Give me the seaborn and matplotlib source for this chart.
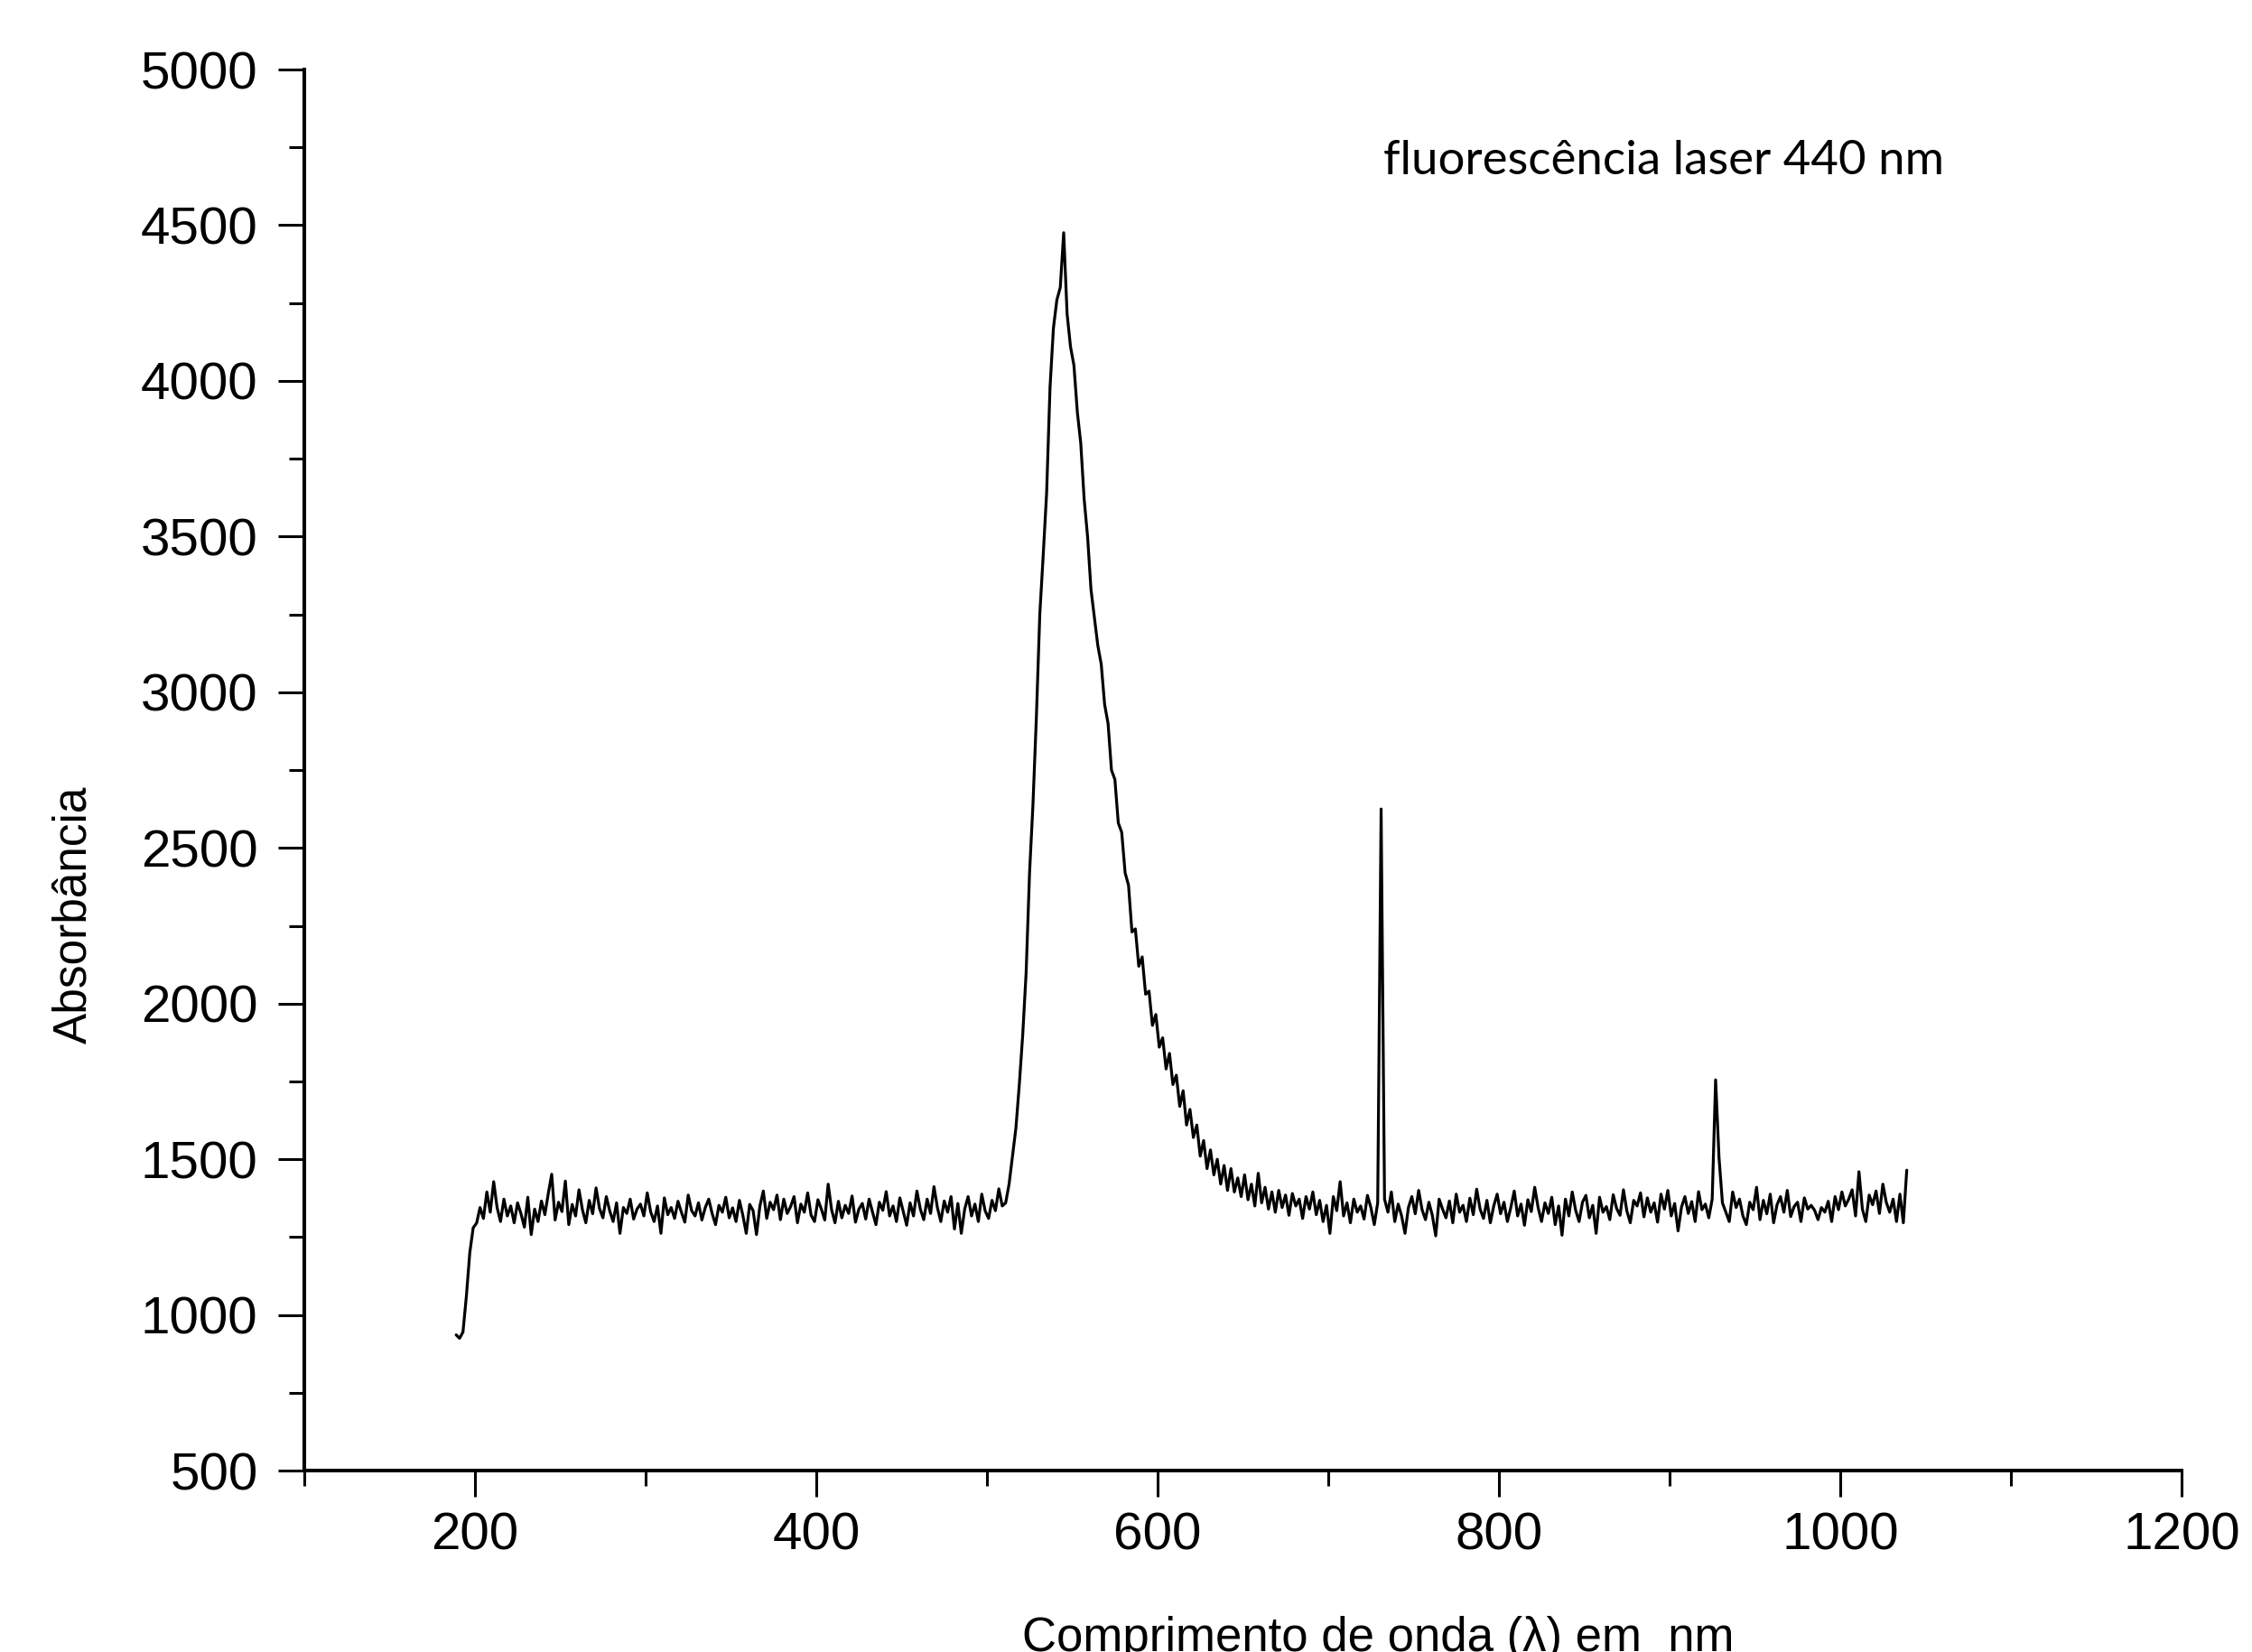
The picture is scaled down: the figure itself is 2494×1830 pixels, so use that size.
import matplotlib
matplotlib.use("Agg")

import matplotlib.pyplot as plt
import numpy as np
import pandas as pd
import seaborn as sns


onset_start = 189
onset_values = [936, 925, 945, 1060, 1200, 1280, 1295, 1345]

left_start = 205
left_values = [
    1310, 1395, 1330, 1428, 1345, 1300, 1372, 1318, 1350, 1296,
    1360, 1325, 1282, 1378, 1258, 1340, 1300, 1366, 1322, 1390,
    1452, 1305, 1362, 1332, 1430, 1290, 1355, 1318, 1402, 1338,
    1296, 1368, 1325, 1408, 1342, 1312, 1380, 1334, 1300, 1360,
    1262, 1345, 1326, 1372, 1308, 1340, 1356, 1318, 1392, 1331,
    1300, 1350, 1262, 1376, 1322, 1345, 1310, 1365, 1330, 1298,
    1385, 1335, 1318, 1360, 1305, 1345, 1372, 1326, 1290, 1352,
    1330, 1378, 1312, 1344, 1300, 1368, 1320, 1262, 1355, 1335,
    1258, 1350, 1398, 1310, 1362, 1338, 1385, 1306, 1372, 1326,
    1348, 1380, 1296, 1356, 1330, 1392, 1320, 1300, 1370, 1340,
    1305, 1420, 1338, 1296, 1365, 1312, 1352, 1326, 1382, 1298,
    1340, 1358, 1308, 1372, 1330, 1290, 1362, 1336, 1396, 1318,
    1350, 1300, 1376, 1332, 1288, 1360, 1318, 1398, 1340, 1306,
    1372, 1326, 1412, 1345, 1300, 1366, 1330, 1380, 1276, 1358,
    1262, 1340, 1380, 1318, 1356, 1300, 1388, 1334, 1310, 1368,
    1335, 1405, 1350,
]

peak_start = 511
peak_values = [
    1360, 1420, 1510, 1600, 1740, 1900, 2100, 2420, 2640, 2920,
    3250, 3440, 3640, 3980, 4170, 4260, 4300, 4476, 4215, 4110,
    4050, 3900, 3800, 3620, 3500, 3330, 3240, 3150, 3090, 2960,
    2900, 2750, 2720, 2580, 2550, 2420, 2380, 2230, 2240, 2120,
    2150, 2030, 2040, 1930, 1965, 1860, 1890, 1790, 1840, 1740,
    1770, 1670, 1720, 1610, 1660, 1570, 1610, 1510, 1560, 1470,
    1530, 1450, 1500, 1420, 1480, 1400, 1470, 1395, 1440, 1380,
    1450, 1370, 1420, 1350, 1455, 1360, 1410, 1340, 1395, 1330,
    1400, 1345, 1385, 1320, 1390, 1350, 1372, 1310, 1380,
]

right_start = 689
right_values = [
    1340, 1395, 1322, 1368, 1300, 1352, 1262, 1380, 1335, 1428,
    1318, 1360, 1296, 1372, 1330, 1350, 1308, 1384, 1345, 1290,
    1360, 2625, 1372, 1330, 1395, 1300, 1356, 1318, 1262, 1345,
    1380, 1325, 1400, 1338, 1306, 1362, 1320, 1254, 1372, 1340,
    1312, 1366, 1296, 1388, 1330, 1352, 1300, 1375, 1322, 1404,
    1340, 1310, 1368, 1296, 1350, 1388, 1325, 1362, 1300, 1345,
    1398, 1318, 1356, 1288, 1370, 1332, 1410, 1345, 1300, 1360,
    1326, 1378, 1290, 1350, 1256, 1372, 1318, 1395, 1336, 1300,
    1362, 1384, 1312, 1352, 1262, 1378, 1330, 1348, 1306, 1386,
    1342, 1320, 1402, 1334, 1296, 1368, 1350, 1392, 1315, 1376,
    1330, 1360, 1298, 1388, 1340, 1400, 1318, 1358, 1270, 1346,
    1380, 1326, 1364, 1300, 1396, 1338, 1356, 1312, 1372, 1755,
    1505, 1360, 1330, 1300, 1395, 1345, 1372, 1318, 1290, 1362,
    1338, 1410, 1306, 1368, 1325, 1388, 1296, 1354, 1380, 1330,
    1400, 1316, 1348, 1362, 1300, 1376, 1340, 1352, 1336, 1306,
    1345, 1330, 1365, 1300, 1380, 1338, 1395, 1350, 1372, 1402,
    1318, 1460, 1340, 1300, 1385, 1354, 1398, 1326, 1420, 1362,
    1330, 1372, 1300, 1388, 1296, 1465,
]

x_ticks = [200, 400, 600, 800, 1000, 1200]
y_ticks = [500, 1000, 1500, 2000, 2500, 3000, 3500, 4000, 4500, 5000]

annotation = "fluorescência laser 440 nm"
x_label = "Comprimento de onda (\u03bb) em  nm"
y_label = "Absorbância"


# Put the segments together
segments = [
    (onset_start, onset_values),
    (left_start, left_values),
    (peak_start, peak_values),
    (right_start, right_values),
]

frames = []
for start, values in segments:
    wl = start + 2 * np.arange(len(values))
    frames.append(pd.DataFrame({"wavelength": wl, "signal": values}))

df = pd.concat(frames, ignore_index=True)


# Plot
sns.set_theme(style="ticks")
plt.rcParams["font.family"] = ["Liberation Sans", "DejaVu Sans"]

fig = plt.figure(figsize=(24.94, 18.30), dpi=100)
ax = fig.add_axes([0.1351, 0.1098, 0.8336, 0.8481])

sns.lineplot(
    data=df,
    x="wavelength",
    y="signal",
    color="black",
    linewidth=2.3,
    estimator=None,
    sort=False,
    ax=ax
)

ax.set_xlim(100, 1200)
ax.set_ylim(500, 5000)
ax.set_xticks(x_ticks)
ax.set_yticks(y_ticks)
ax.set_xticks([100, 300, 500, 700, 900, 1100], minor=True)
ax.set_yticks(np.arange(750, 5000, 500), minor=True)

ax.tick_params(axis="both", which="major", direction="out",
               length=21, width=2.2, colors="black", labelsize=42)
ax.tick_params(axis="both", which="minor", direction="out",
               length=12, width=2.2, colors="black")
ax.tick_params(axis="y", which="major", pad=16)
ax.tick_params(axis="x", which="major", pad=12)

ax.spines["top"].set_visible(False)
ax.spines["right"].set_visible(False)
for side in ["left", "bottom"]:
    ax.spines[side].set_linewidth(2.9)
    ax.spines[side].set_color("black")

ax.set_xlabel("")
ax.set_ylabel("")

fig.text(0.0329, 0.4465, y_label, rotation=90, ha="center", va="center",
         fontsize=37, color="black")
fig.text(0.612, 0.0005, x_label, ha="center", va="baseline",
         fontsize=38, color="black")
fig.text(0.6143, 0.8945, annotation, ha="left", va="baseline",
         fontsize=38, color="black", family=["Lato", "DejaVu Sans"])

fig.savefig("out.png", dpi=100, facecolor="white")
plt.close(fig)
